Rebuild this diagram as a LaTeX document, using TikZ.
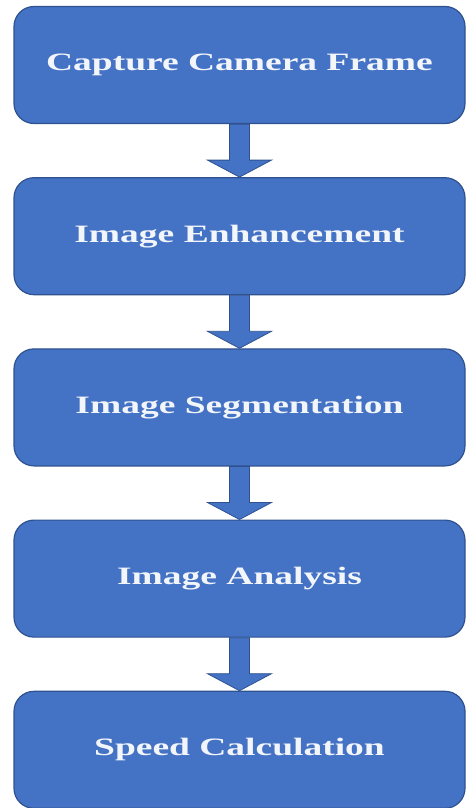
\documentclass[tikz,border=0pt]{standalone}
\usepackage{fontspec}
\usetikzlibrary{positioning, calc}
\newfontfamily\cajafont[FakeStretch=1.5]{Liberation Serif}
\definecolor{relleno}{HTML}{4472C4}
\definecolor{borde}{HTML}{2F528F}
\definecolor{letra}{HTML}{F2F5FA}

\tikzset{
  caja/.style={fill=relleno, draw=borde, line width=1.2pt, rounded corners=20pt,
               minimum width=451pt, minimum height=117pt, inner sep=0pt,
               text=letra, font=\cajafont\bfseries\fontsize{25}{30}\selectfont},
  flecha/.style={fill=relleno, draw=borde, line width=0.8pt}
}

\begin{document}
\begin{tikzpicture}
  \useasboundingbox (0,0) rectangle (470pt,-808pt);
  \node[caja] (captura) at (239.5pt,-65pt) {Capture Camera Frame};
  \node[caja, below=53pt of captura] (mejora) {Image Enhancement};
  \node[caja, below=53pt of mejora] (segmento) {Image Segmentation};
  \node[caja, below=53pt of segmento] (analisis) {Image Analysis};
  \node[caja, below=53pt of analisis] (velocidad) {Speed Calculation};
  % flechas de bloque entre cajas
  \foreach \desde/\hasta in {captura/mejora, mejora/segmento, segmento/analisis, analisis/velocidad}
    \draw[flecha] ($(\desde.south)+(-10pt,0)$) -- ($(\hasta.north)+(-10pt,17pt)$)
      -- ($(\hasta.north)+(-32pt,17pt)$) -- (\hasta.north)
      -- ($(\hasta.north)+(32pt,17pt)$) -- ($(\hasta.north)+(10pt,17pt)$)
      -- ($(\desde.south)+(10pt,0)$) -- cycle;
\end{tikzpicture}
\end{document}
